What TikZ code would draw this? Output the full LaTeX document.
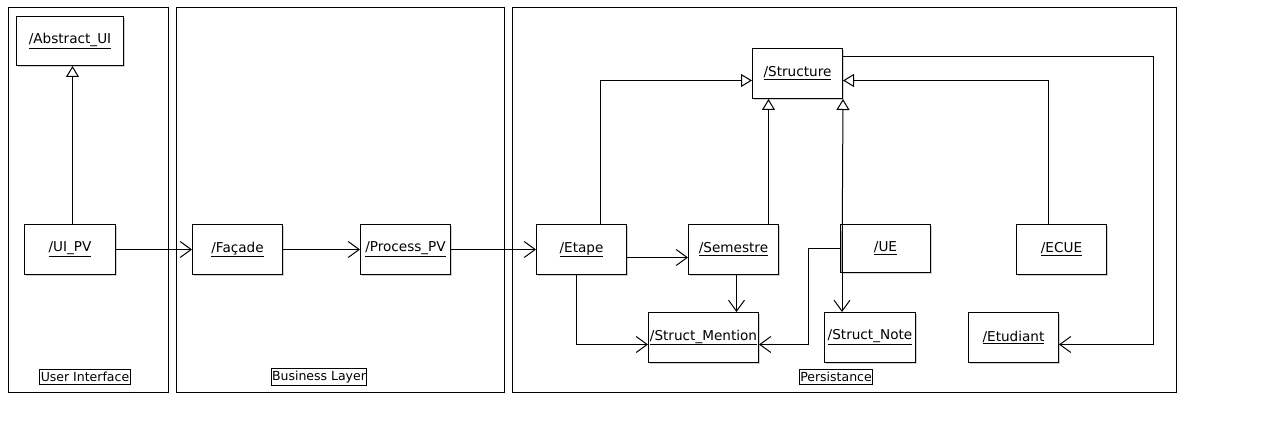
\documentclass[tikz,border=0pt]{standalone}
\usepackage{fontspec}
\setmainfont{DejaVu Sans}
\usetikzlibrary{arrows.meta,shadows}
\begin{document}
\begin{tikzpicture}[x=1pt,y=-1pt,
  frame/.style={draw,line width=1pt},
  cls/.style={draw,fill=white,line width=1pt,anchor=north west,inner sep=0pt,
    minimum width=90pt,minimum height=50pt,font=\fontsize{13.6}{15}\selectfont,
    drop shadow={shadow xshift=1.2pt,shadow yshift=-1.2pt,fill=black!35}},
  lbl/.style={draw,fill=white,line width=1pt,inner xsep=1pt,inner ysep=2.2pt,font=\fontsize{12.5}{14}\selectfont},
  inh/.style={line width=1pt,-{Triangle[open,length=11pt,width=13pt,fill=white]}},
  dep/.style={line width=1pt,-{Straight Barb[length=11pt,width=16pt]}}]
\useasboundingbox (0,0) rectangle (1285,422);
% frames
\draw[frame] (8,8) rectangle (168,392);
\draw[frame] (176,8) rectangle (504,392);
\draw[frame] (512,8) rectangle (1176,392);
\node[lbl] (lui) at (85,377) {User Interface};
\node[lbl] (lbus) at (319,377) {Business Layer};
\node[lbl] (lper) at (836,377) {Persistance};
% classes
\node[cls,minimum width=107pt,minimum height=49pt] (absui) at (16,16) {\underline{/Abstract\_UI}};
\node[cls,minimum width=91pt] (uipv) at (24,224) {\underline{/UI\_PV}};
\node[cls] (facade) at (192,224) {\underline{/Façade}};
\node[cls] (process) at (360,224) {\underline{/Process\_PV}};
\node[cls] (etape) at (536,224) {\underline{/Etape}};
\node[cls] (semestre) at (688,224) {\underline{/Semestre}};
\node[cls] (structure) at (752,48) {\underline{/Structure}};
\node[cls] (ecue) at (1016,224) {\underline{/ECUE}};
\node[cls,minimum width=110pt] (mention) at (648,312) {\underline{/Struct\_Mention}};
\node[cls,minimum width=91pt] (note) at (824,312) {\underline{/Struct\_Note}};
\node[cls] (etudiant) at (968,312) {\underline{/Etudiant}};
\node[cls,minimum height=48pt] (ue) at (840,224) {\underline{/UE}};
% connectors
\draw[inh] ([xshift=2.5pt]uipv.north) -- ([xshift=2.5pt]absui.south);
\draw[dep] (uipv.east) -- (facade.west);
\draw[dep] (facade.east) -- (process.west);
\draw[dep] (process.east) -- (etape.west);
\draw[dep] ([yshift=-8pt]etape.east) -- ([yshift=-8pt]semestre.west);
\draw[inh] ([xshift=19pt]etape.north) |- ([yshift=-7pt]structure.west);
\draw[inh] ([xshift=35pt]semestre.north) -- ([xshift=35pt]semestre.north |- structure.south);
\draw[inh] ([xshift=2pt]ue.south west) -- (structure.south east);
\draw[dep] ([xshift=2pt]ue.north west) -- ([xshift=2pt]ue.north west |- note.north);
\draw[dep] (ue.west) -- ++(-32,0) |- ([yshift=-7pt]mention.east);
\draw[dep] ([xshift=3pt]semestre.south) -- ([xshift=3pt]semestre.south |- mention.north);
\draw[dep] ([xshift=-5pt]etape.south) |- ([yshift=-7pt]mention.west);
\draw[inh] ([xshift=-13pt]ecue.north) |- ([yshift=-7pt]structure.east);
\draw[dep] ([yshift=17pt]structure.east) -- ++(310,0) |- ([yshift=-7pt]etudiant.east);
\end{tikzpicture}
\end{document}
